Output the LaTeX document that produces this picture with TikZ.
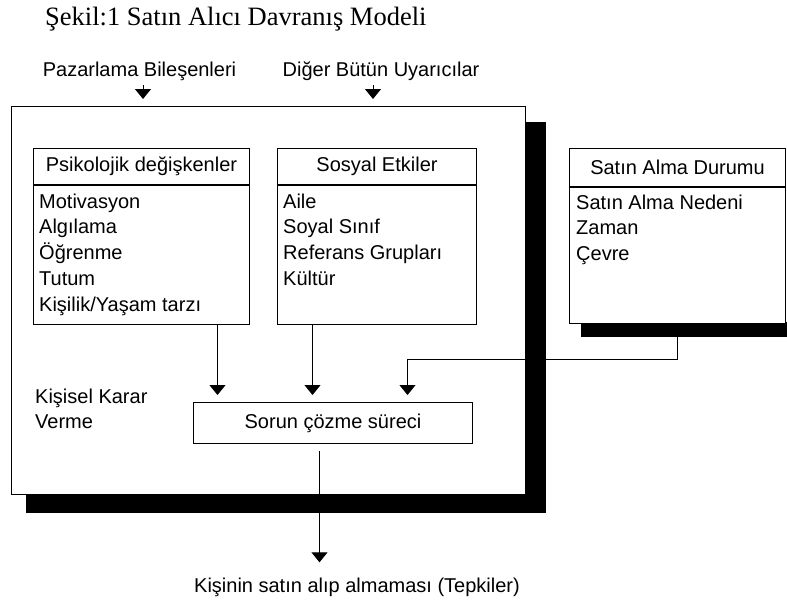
\documentclass[tikz,border=0pt]{standalone}
\usepackage{fontspec}
\setmainfont{Liberation Serif}
\newfontfamily\uifont{Liberation Sans}
\usetikzlibrary{arrows.meta}
\tikzset{
  box/.style={draw, line width=1pt, inner sep=0pt},
  ui/.style={font=\uifont\fontsize{20}{25}\selectfont, inner sep=0pt},
  arr/.style={-{Triangle[width=16pt,length=10pt]}, line width=1pt},
}
\begin{document}
\begin{tikzpicture}[x=1pt,y=-1pt]
    \clip (0,0) rectangle (787,600);
    \fill[white] (0,0) rectangle (787,600);

    % title and stimuli
    \node[anchor=base west, inner sep=0pt, font=\fontsize{26.5}{30}\selectfont] (title) at (45,25) {Şekil:1 Satın Alıcı Davranış Modeli};
    \node[ui, anchor=base] (pazar) at (139.5,76) {Pazarlama Bileşenleri};
    \node[ui, anchor=base] (diger) at (381,76) {Diğer Bütün Uyarıcılar};

    % shadows
    \fill (26,122) rectangle (546,513);
    \fill (581,322) rectangle (787,337);

    % outer box
    \node[box, fill=white, anchor=north west, minimum width=514pt, minimum height=388pt] (main) at (11,106) {};

    \draw[arr, shorten <=5pt, shorten >=7pt] ([xshift=3.5pt]pazar.south) -- ([xshift=3.5pt]pazar.south |- main.north);
    \draw[arr, shorten <=5pt, shorten >=7pt] ([xshift=-8pt]diger.south) -- ([xshift=-8pt]diger.south |- main.north);

    % psikolojik
    \node[box, ui, anchor=north west, minimum width=216pt, minimum height=36pt] (psyh) at (33,148) {Psikolojik değişkenler};
    \node[box, anchor=north west, minimum width=216pt, minimum height=139pt] (psyb) at (psyh.south west) {};
    \foreach \t [count=\i] in {Motivasyon, Algılama, Öğrenme, Tutum, Kişilik/Yaşam tarzı}
        \node[ui, anchor=base west] (psy\i) at (39,182.2+\i*25.8) {\t};

    % sosyal
    \node[box, ui, anchor=north west, minimum width=199pt, minimum height=36pt] (sosh) at (277,148) {Sosyal Etkiler};
    \node[box, anchor=north west, minimum width=199pt, minimum height=139pt] (sosb) at (sosh.south west) {};
    \foreach \t [count=\i] in {Aile, Soyal Sınıf, Referans Grupları, Kültür}
        \node[ui, anchor=base west] (sos\i) at (283,182.2+\i*25.8) {\t};

    % satin alma durumu
    \node[box, ui, fill=white, anchor=north west, minimum width=216pt, minimum height=38pt] (sath) at (569,148) {Satın Alma Durumu};
    \node[box, fill=white, anchor=north west, minimum width=216pt, minimum height=136pt] (satb) at (sath.south west) {};
    \foreach \t [count=\i] in {Satın Alma Nedeni, Zaman, Çevre}
        \node[ui, anchor=base west] (sat\i) at (576,183.2+\i*25.8) {\t};

    % karar
    \node[ui, anchor=base west, align=left] (karar) at (35,428) {Kişisel Karar\\Verme};
    \node[box, ui, anchor=north west, minimum width=279pt, minimum height=41pt] (sorun) at (193,402) {Sorun çözme süreci};

    \draw[arr, shorten >=7pt] ([xshift=76pt]psyb.south) -- ([xshift=76pt]psyb.south |- sorun.north);
    \draw[arr, shorten >=7pt] ([xshift=-64.5pt]sosb.south) -- ([xshift=-64.5pt]sosb.south |- sorun.north);
    \draw[arr, shorten >=7pt] (satb.south) -- ++(0,35) -| ([xshift=74.5pt]sorun.north);

    % tepki
    \node[ui, anchor=base] (tepki) at (357,592) {Kişinin satın alıp almaması (Tepkiler)};
    \draw[arr, shorten <=7pt, shorten >=15pt] ([xshift=-13.5pt]sorun.south) -- ([xshift=-13.5pt]sorun.south |- tepki.north);
\end{tikzpicture}
\end{document}
